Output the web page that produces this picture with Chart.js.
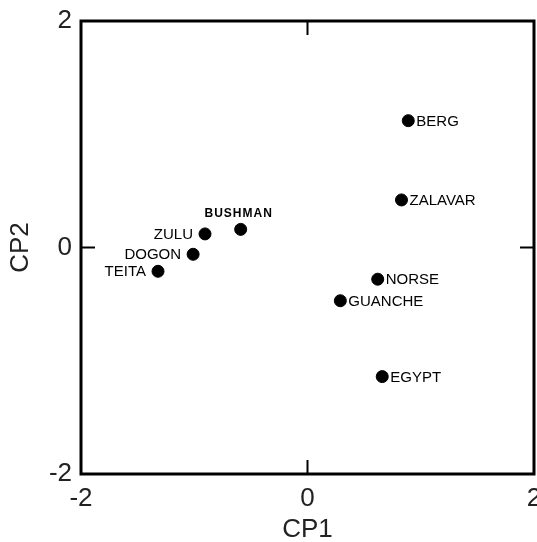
<!DOCTYPE html>
<html>
<head>
<meta charset="UTF-8">
<title>CP1 / CP2</title>
<script src="https://cdn.jsdelivr.net/npm/chart.js"></script>
<style>
  html, body { margin: 0; padding: 0; background: white; overflow: hidden; }
  #wrap { width: 537px; height: 542px; overflow: hidden; }
  #inner { width: 546px; height: 542px; }
</style>
</head>
<body>
<div id="wrap"><div id="inner"><canvas id="grafico"></canvas></div></div>
<script>
// datos
const poblaciones = ["BERG", "ZALAVAR", "NORSE", "GUANCHE", "EGYPT", "BUSHMAN", "ZULU", "DOGON", "TEITA"];
const cp1 = [0.89, 0.83, 0.62, 0.29, 0.66, -0.59, -0.905, -1.01, -1.32];
const cp2 = [1.12, 0.42, -0.28, -0.47, -1.14, 0.16, 0.12, -0.06, -0.21];
// lado de la etiqueta: r = derecha, l = izquierda, t = arriba
const lado = ["r", "r", "r", "r", "r", "t", "l", "l", "l"];
const ticksEje = [-2, 0, 2];

const puntos = cp1.map((x, i) => ({ x: x, y: cp2[i] }));

// marco, marcas interiores en 0 y etiquetas de los puntos
const marco = {
    id: "marco",
    afterDraw(chart) {
        const ctx = chart.ctx;
        const a = chart.chartArea;
        const sx = chart.scales.x, sy = chart.scales.y;
        ctx.save();
        ctx.strokeStyle = "#000";
        ctx.lineWidth = 3;
        ctx.strokeRect(a.left, a.top, a.right - a.left, a.bottom - a.top);

        ctx.lineWidth = 2;
        const x0 = sx.getPixelForValue(0), y0 = sy.getPixelForValue(0);
        ctx.beginPath();
        ctx.moveTo(x0, a.bottom); ctx.lineTo(x0, a.bottom - 14);
        ctx.moveTo(x0, a.top); ctx.lineTo(x0, a.top + 14);
        ctx.moveTo(a.left, y0); ctx.lineTo(a.left + 14, y0);
        ctx.moveTo(a.right, y0); ctx.lineTo(a.right - 14, y0);
        ctx.stroke();

        const meta = chart.getDatasetMeta(0);
        ctx.fillStyle = "#000";
        ctx.textBaseline = "middle";
        meta.data.forEach((p, i) => {
            if (lado[i] === "t") {
                ctx.font = "bold 12px 'Liberation Sans', Arial, sans-serif";
                ctx.letterSpacing = "1px";
                ctx.textAlign = "center";
                ctx.fillText(poblaciones[i], p.x - 2, p.y - 16);
                ctx.letterSpacing = "0px";
            } else {
                ctx.font = "15px 'Liberation Sans', Arial, sans-serif";
                if (lado[i] === "r") {
                    ctx.textAlign = "left";
                    ctx.fillText(poblaciones[i], p.x + 8, p.y + 1);
                } else {
                    ctx.textAlign = "right";
                    ctx.fillText(poblaciones[i], p.x - 12, p.y + 1);
                }
            }
        });
        ctx.restore();
    }
};

const fuente = { family: "'Liberation Sans', Arial, sans-serif", size: 26 };

new Chart(document.getElementById("grafico"), {
    type: "scatter",
    data: {
        datasets: [{
            data: puntos,
            backgroundColor: "#000",
            borderColor: "#000",
            pointRadius: 6,
            pointHoverRadius: 6,
            clip: false
        }]
    },
    options: {
        responsive: true,
        maintainAspectRatio: false,
        animation: false,
        events: [],
        layout: { padding: { top: 21, right: 12, left: 0, bottom: 0 } },
        plugins: { legend: { display: false }, tooltip: { enabled: false } },
        scales: {
            x: {
                type: "linear",
                min: -2, max: 2,
                afterBuildTicks(s) { s.ticks = ticksEje.map(v => ({ value: v })); },
                afterFit(s) { s.height = 68; s.paddingLeft = 0; s.paddingRight = 0; },
                grid: { display: false, drawTicks: false },
                border: { display: false },
                ticks: { color: "#222", font: fuente, padding: 9, maxRotation: 0 },
                title: { display: true, text: "CP1", color: "#222", font: fuente, padding: { top: 0, bottom: -3 } }
            },
            y: {
                type: "linear",
                min: -2, max: 2,
                afterBuildTicks(s) { s.ticks = ticksEje.map(v => ({ value: v })); },
                afterFit(s) { s.width = 81; s.paddingTop = 0; s.paddingBottom = 0; },
                grid: { display: false, drawTicks: false },
                border: { display: false },
                ticks: { color: "#222", font: fuente, padding: 9 },
                title: { display: true, text: "CP2", color: "#222", font: fuente, padding: { top: 5, bottom: 0 } }
            }
        }
    },
    plugins: [marco]
});
</script>
</body>
</html>
